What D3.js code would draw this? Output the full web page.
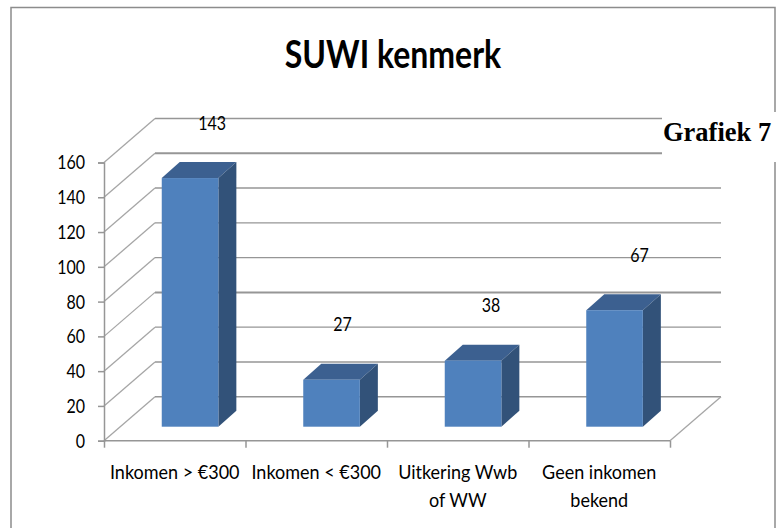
<!DOCTYPE html>
<html><head><meta charset="utf-8">
<script src="https://cdnjs.cloudflare.com/ajax/libs/d3/7.8.5/d3.min.js"></script>
<style>html,body{margin:0;padding:0;background:#fff}svg{display:block}text{font-family:Lato,sans-serif;fill:#000}</style>
</head><body><script>
const categories = [["Inkomen > €300"], ["Inkomen < €300"], ["Uitkering Wwb", "of WW"], ["Geen inkomen", "bekend"]];
const values = [143, 27, 38, 67];
const yTicks = [0, 20, 40, 60, 80, 100, 120, 140, 160];
const title = "SUWI kenmerk";
const note = "Grafiek 7";

const W = 777, H = 528;
const svg = d3.select("body").append("svg").attr("width", W).attr("height", H);
const x = d3.scaleBand().domain(d3.range(values.length)).range([104, 670]).paddingInner(0).paddingOuter(0);
const y = d3.scaleLinear().domain([0, 160]).range([440.7, 162.5]);
const depth = {dx: 51, dy: -44}, barDepth = {dx: 18, dy: -16};
const grey = "#969696";
const gridW = v => (v === 140 || v === 60) ? 2 : 1.4;

// narrows glyphs the way the reference's resampled text is narrowed
const squeeze = (sel, f) => sel.each(function () {
  const n = this.getComputedTextLength();
  d3.select(this).attr("textLength", n * f).attr("lengthAdjust", "spacingAndGlyphs");
});

// chart frame
svg.append("path").attr("d", "M11,528V7.5H775V528").attr("fill", "none").attr("stroke", "#8c8c8c").attr("stroke-width", 1.5);

// back wall gridlines and side wall diagonals
yTicks.forEach(v => {
  svg.append("line").attr("x1", 104 + depth.dx).attr("x2", 670 + depth.dx)
    .attr("y1", y(v) + depth.dy).attr("y2", y(v) + depth.dy)
    .attr("stroke", grey).attr("stroke-width", gridW(v));
  svg.append("line").attr("x1", 104).attr("x2", 104 + depth.dx)
    .attr("y1", y(v)).attr("y2", y(v) + depth.dy)
    .attr("stroke", "#a6a6a6").attr("stroke-width", 1.3);
});
// floor
svg.append("path").attr("d", `M670,${y(0)}L${670 + depth.dx},${y(0) + depth.dy}`)
  .attr("stroke", "#a6a6a6").attr("stroke-width", 1.3).attr("fill", "none");

// axes
const yAxis = d3.axisLeft(y).tickValues(yTicks).tickSize(6).tickPadding(13);
const gy = svg.append("g").attr("transform", "translate(104,0)").call(yAxis);
gy.selectAll("path,line").attr("stroke", grey).attr("stroke-width", 1.5);
gy.selectAll("text").style("font-size", "20px").style("font-family", "Lato,sans-serif").attr("fill", "#000").call(squeeze, 0.8);

const xLine = d3.axisBottom(d3.scaleLinear().domain([0, values.length]).range([104, 670]))
  .tickValues(d3.range(values.length + 1)).tickSize(7).tickFormat("");
const gx = svg.append("g").attr("transform", `translate(0,${y(0)})`).call(xLine);
gx.selectAll("path,line").attr("stroke", grey).attr("stroke-width", 1.5);
gx.select("path").attr("d", "M104,0H670");

// bars
const bw = x.bandwidth() * 0.4;
const bx = i => x(i) + (x.bandwidth() - bw) / 2 + (depth.dx - barDepth.dx) / 2 - 1.2;
const by0 = y(0) + (depth.dy - barDepth.dy) / 2;
const h = v => y(0) - y(v);
const bars = svg.append("g").selectAll("g").data(values).join("g");
bars.append("path").attr("fill", "#3c6090")
  .attr("d", (v, i) => `M${bx(i)},${by0 - h(v)}l${barDepth.dx},${barDepth.dy}h${bw}l${-barDepth.dx},${-barDepth.dy}z`);
bars.append("path").attr("fill", "#325279")
  .attr("d", (v, i) => `M${bx(i) + bw},${by0}l${barDepth.dx},${barDepth.dy}v${-h(v)}l${-barDepth.dx},${-barDepth.dy}z`);
bars.append("rect").attr("fill", "#4f81bd")
  .attr("x", (v, i) => bx(i)).attr("y", v => by0 - h(v)).attr("width", bw).attr("height", h);

// value labels
const labelShift = [22, 11, 18, 25];
bars.append("text").text(v => v).attr("text-anchor", "middle").style("font-size", "20px")
  .attr("x", (v, i) => bx(i) + bw / 2 + labelShift[i])
  .attr("y", v => by0 - h(v) - 48.5)
  .call(squeeze, 0.8);

// category labels
categories.forEach((lines, i) => {
  lines.forEach((t, j) => {
    svg.append("text").text(t).attr("text-anchor", "middle").style("font-size", "20px")
      .attr("x", x(i) + x.bandwidth() / 2).attr("y", 479 + j * 28)
      .call(squeeze, 0.9);
  });
});

// title
svg.append("text").text(title).attr("x", 393).attr("y", 68).attr("text-anchor", "middle")
  .style("font-size", "39px").style("font-weight", "700")
  .call(squeeze, 0.82);

// pasted note covering the corner of the chart
svg.append("rect").attr("x", 662).attr("y", 112).attr("width", 115).attr("height", 50).attr("fill", "#fff");
svg.append("text").text(note).attr("x", 663).attr("y", 141)
  .style("font-family", "'Liberation Serif',serif").style("font-size", "26.5px").style("font-weight", "700");
</script></body></html>
